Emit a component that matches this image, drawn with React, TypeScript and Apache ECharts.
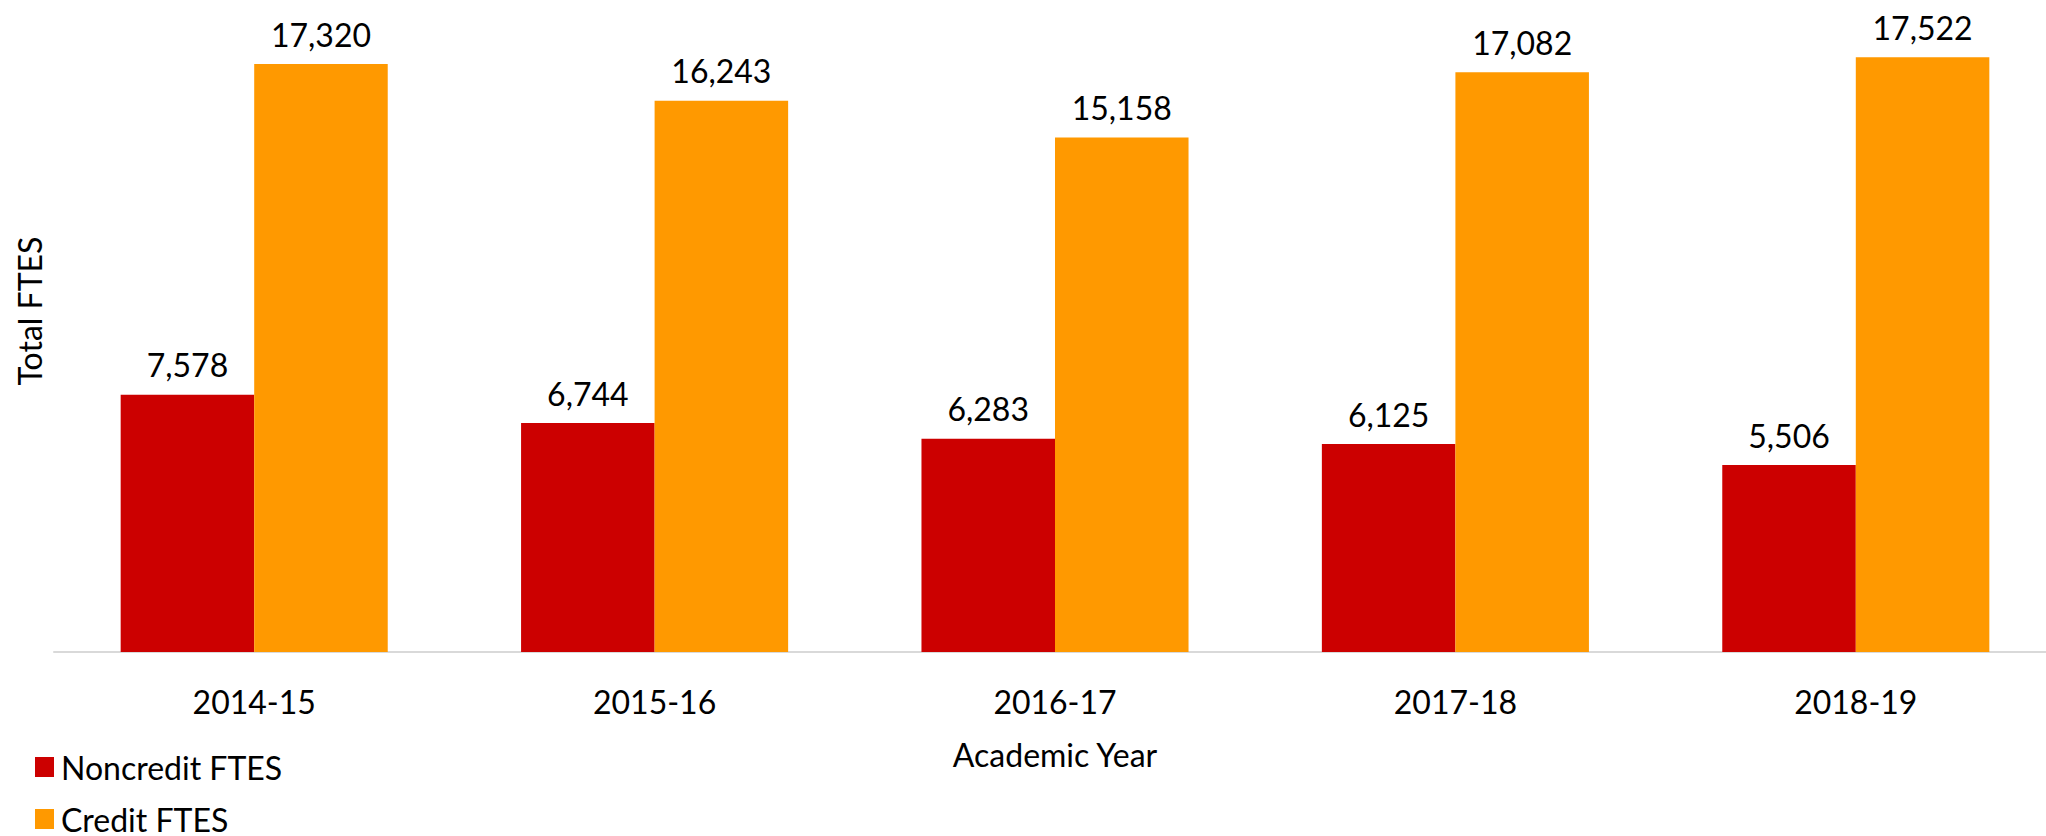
import React, { useEffect, useRef } from "react";
import * as echarts from "echarts";

const categories = ["2014-15", "2015-16", "2016-17", "2017-18", "2018-19"];
const noncredit = [7578, 6744, 6283, 6125, 5506];
const credit = [17320, 16243, 15158, 17082, 17522];
const seriesNames = ["Noncredit FTES", "Credit FTES"];
const yMax = 18000;

const FONT = "Lato";

export default function App() {
  const ref = useRef<HTMLDivElement>(null);
  useEffect(() => {
    if (!ref.current) return;
    const chart = echarts.init(ref.current, undefined, { renderer: "svg" });
    const fmt = (p: any) => Number(p.value).toLocaleString("en-US");
    const labelStyle = {
      show: true,
      position: "top" as const,
      distance: 14,
      fontSize: 32,
      fontFamily: FONT,
      color: "#000",
      formatter: fmt,
    };
    chart.setOption({
      animation: false,
      backgroundColor: "#fff",
      textStyle: { fontFamily: FONT },
      grid: { left: 54, top: 41, width: 2002, height: 611, containLabel: false },
      legend: {
        orient: "vertical",
        left: 35,
        top: 751,
        height: 200,
        padding: 0,
        itemWidth: 19,
        itemHeight: 20,
        itemGap: 20,
        icon: "rect",
        textStyle: { fontSize: 32, fontFamily: FONT, color: "#000", padding: [0, 0, 0, 2] },
        data: seriesNames,
      },
      xAxis: {
        type: "category",
        data: categories,
        name: "Academic Year",
        nameLocation: "middle",
        nameGap: 86,
        nameTextStyle: { fontSize: 32, fontFamily: FONT, color: "#000" },
        axisLine: { lineStyle: { color: "#d9d9d9", width: 2 } },
        axisTick: { show: false },
        axisLabel: { fontSize: 32, fontFamily: FONT, color: "#000", margin: 33 },
      },
      yAxis: {
        type: "value",
        min: 0,
        max: yMax,
        show: false,
        splitLine: { show: false },
      },
      graphic: [
        {
          type: "text",
          x: 29,
          y: 311,
          rotation: Math.PI / 2,
          style: {
            text: "Total FTES",
            fontSize: 32,
            fontFamily: FONT,
            fill: "#000",
            align: "center",
            verticalAlign: "middle",
          },
        },
      ],
      series: [
        {
          name: seriesNames[0],
          type: "bar",
          data: noncredit,
          barGap: "0%",
          barCategoryGap: "33.3%",
          itemStyle: { color: "#CC0000" },
          label: labelStyle,
        },
        {
          name: seriesNames[1],
          type: "bar",
          data: credit,
          barGap: "0%",
          barCategoryGap: "33.3%",
          itemStyle: { color: "#FF9900" },
          label: labelStyle,
        },
      ],
    });
    return () => chart.dispose();
  }, []);
  return (
    <div
      style={{
        position: "absolute",
        left: 0,
        top: 0,
        width: 2046,
        height: 836,
        overflow: "hidden",
        background: "#fff",
      }}
    >
      <div ref={ref} style={{ width: 2120, height: 836 }} />
    </div>
  );
}
